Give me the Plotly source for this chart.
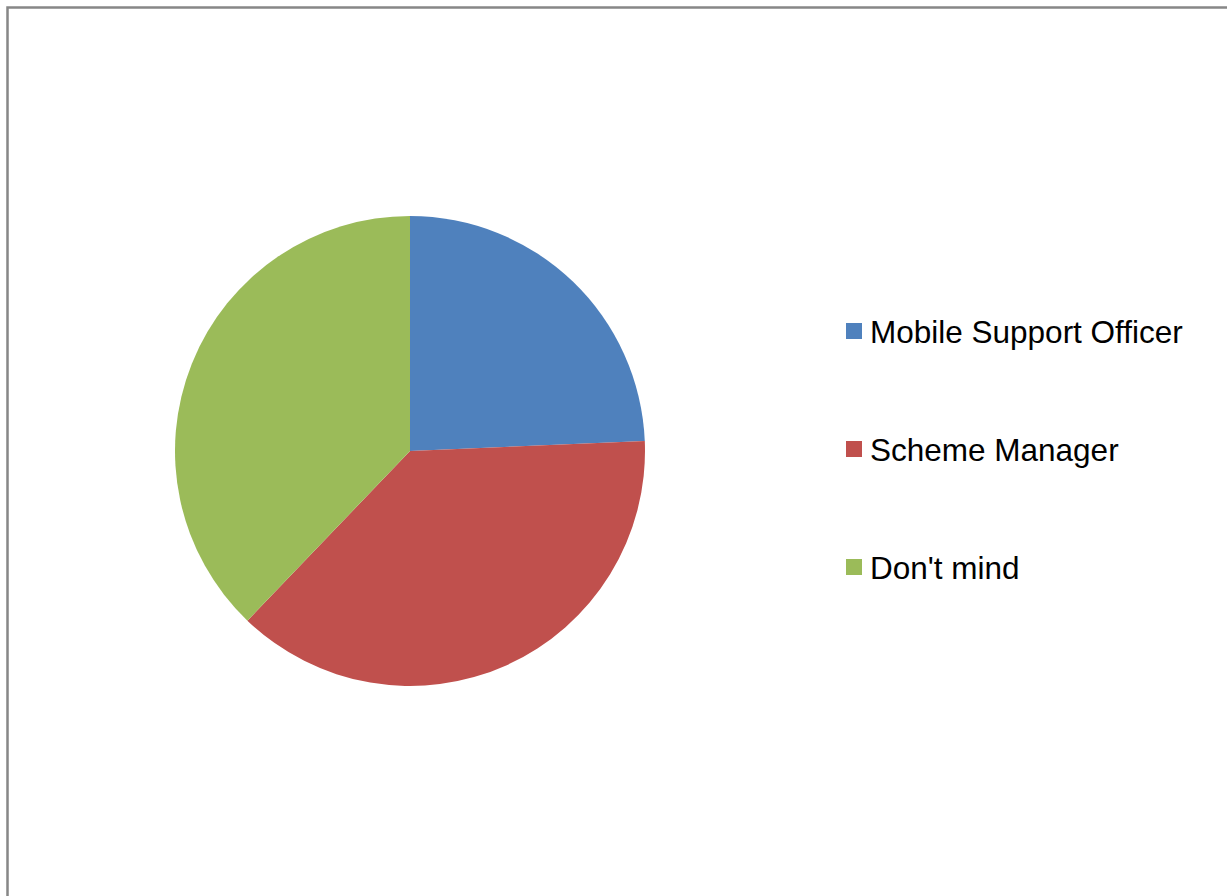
import plotly.graph_objects as go

W, H = 1227, 896

labels = ["Mobile Support Officer", "Scheme Manager", "Don't mind"]
values = [9, 14, 14]
colors = ["#4F81BD", "#C0504D", "#9BBB59"]

def px(x):
    return x / W

def py(y):
    return 1 - y / H

fig = go.Figure()
fig.add_trace(go.Pie(
    labels=labels,
    values=values,
    marker=dict(colors=colors, line=dict(width=0)),
    sort=False,
    direction="clockwise",
    rotation=0,
    textinfo="none",
    hoverinfo="label+value+percent",
    showlegend=False,
    domain=dict(x=[px(175), px(645)], y=[py(686), py(216)]),
))

shapes = [dict(type="rect", xref="paper", yref="paper",
               x0=px(7.5), x1=px(1228.5), y0=py(7.5), y1=py(905),
               line=dict(color="#878787", width=2.5), fillcolor="rgba(0,0,0,0)")]
annotations = []
legend_y = [331, 449, 567]
for lab, col, yy in zip(labels, colors, legend_y):
    shapes.append(dict(type="rect", xref="paper", yref="paper",
                       x0=px(846), x1=px(862), y0=py(yy + 8), y1=py(yy - 8),
                       line=dict(width=0), fillcolor=col))
    annotations.append(dict(text=lab, xref="paper", yref="paper",
                            x=px(868), y=py(yy + 1), xanchor="left", yanchor="middle",
                            showarrow=False,
                            font=dict(family="Liberation Sans, Arial", size=31.5, color="#000000")))

fig.update_layout(
    width=W, height=H,
    margin=dict(l=0, r=0, t=0, b=0),
    paper_bgcolor="white",
    plot_bgcolor="white",
    shapes=shapes,
    annotations=annotations,
    showlegend=False,
)

fig.write_html("out.html")
